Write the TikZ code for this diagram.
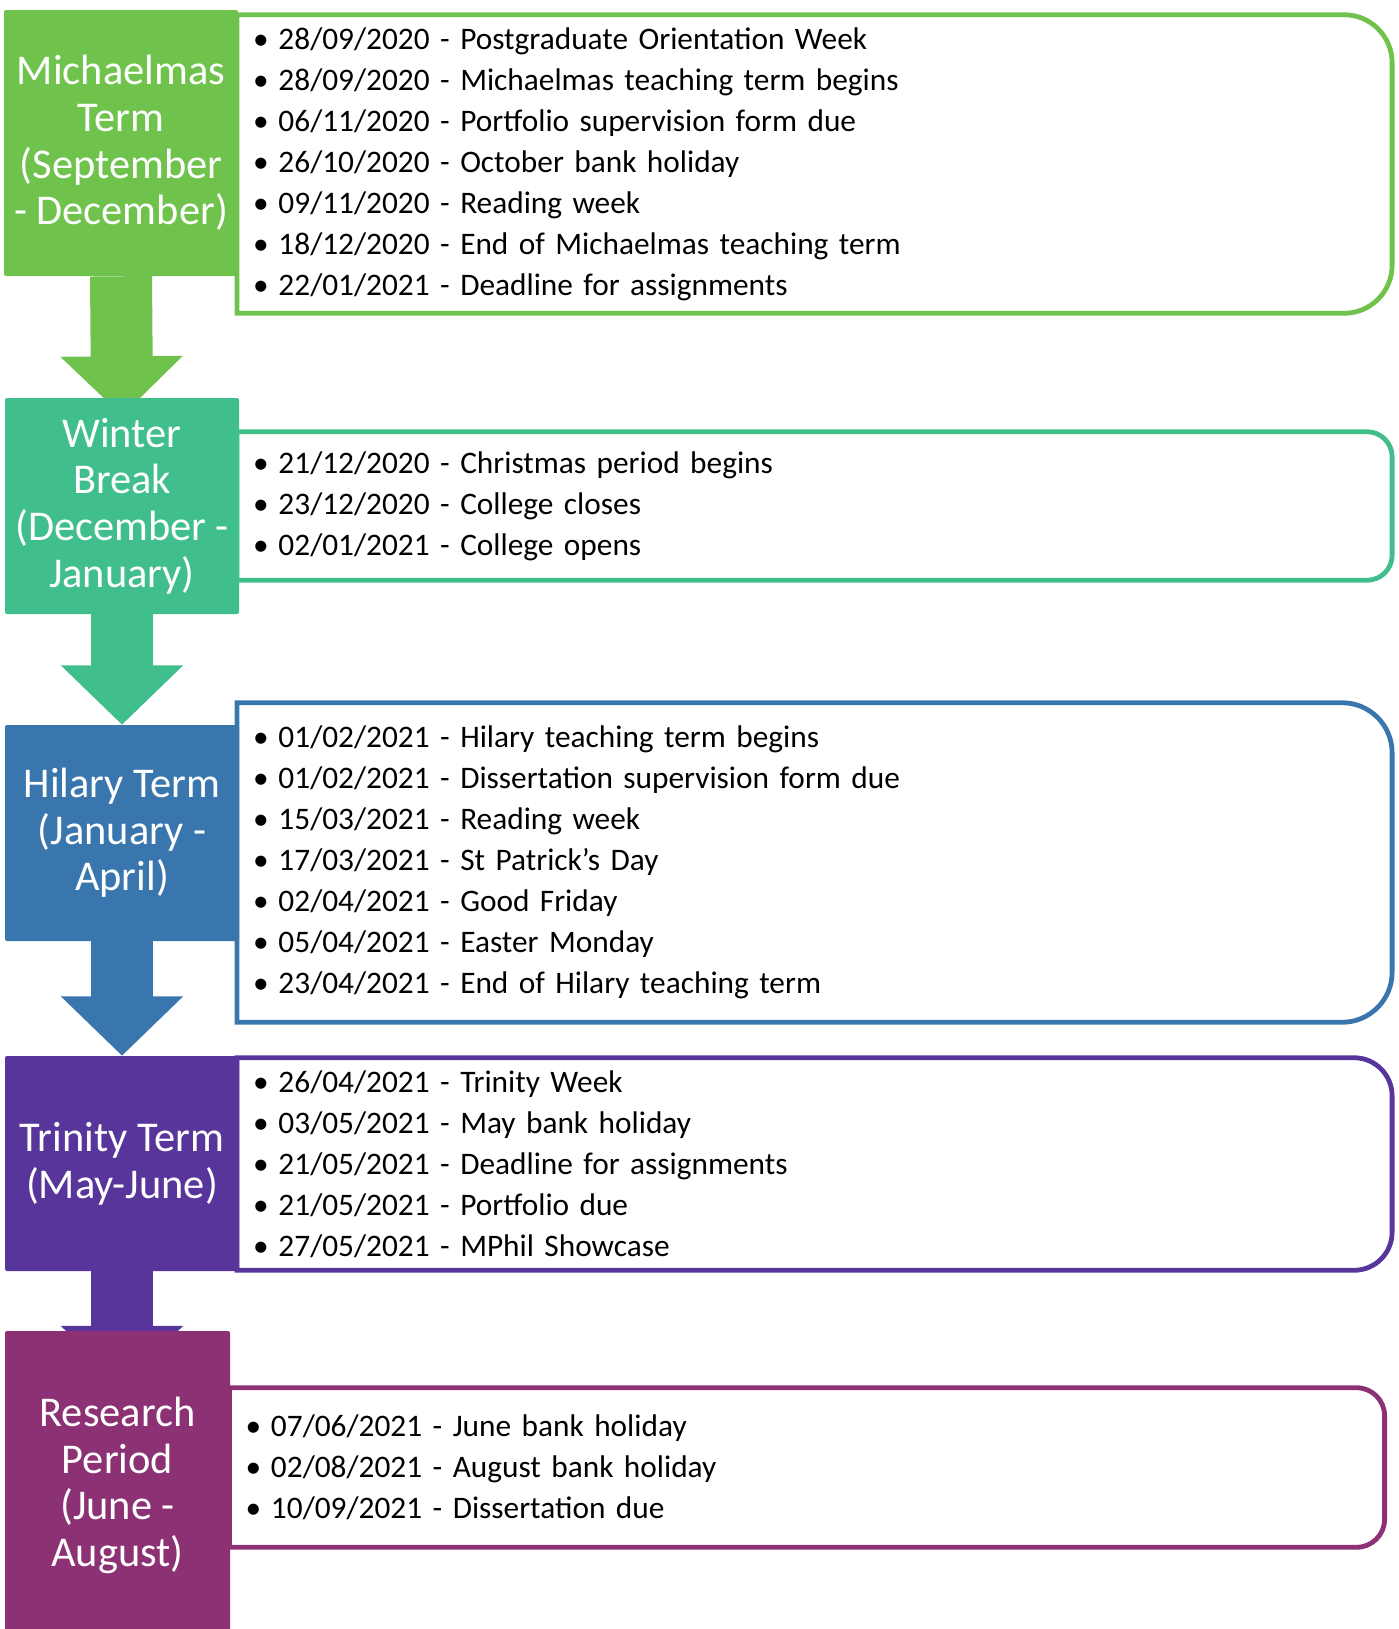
\documentclass[tikz,border=0pt]{standalone}
\usepackage{fontspec}
\setmainfont{Carlito}
\usetikzlibrary{arrows.meta,backgrounds}

\definecolor{michgreen}{RGB}{111,195,76}
\definecolor{wintergreen}{RGB}{64,190,139}
\definecolor{hilaryblue}{RGB}{58,118,174}
\definecolor{trinitypurple}{RGB}{88,53,154}
\definecolor{researchplum}{RGB}{139,49,116}

\newcommand{\bul}{\makebox[19pt][l]{\textbullet}}

\begin{document}
\begin{tikzpicture}[
    x=0.75pt, y=-0.75pt,
    term/.style={rectangle, rounded corners=1.5pt, minimum width=175.5pt, inner sep=0pt, align=center, text=white, font=\fontsize{31.8}{35}\selectfont},
    dates/.style={rectangle, inner xsep=12pt, inner ysep=0pt, text width=842pt, align=left, font=\fontsize{23.5}{30.75}\selectfont},
    flow/.style={line width=46.5pt, -{Triangle[width=89.25pt, length=44.6pt]}}
]
\useasboundingbox (0,0) rectangle (1399,1629);

% Date lists
\node[dates, minimum height=223.5pt] (dates1) at (814.5,164) {\bul 28/09/2020 - Postgraduate Orientation Week\\
    \bul 28/09/2020 - Michaelmas teaching term begins\\
    \bul 06/11/2020 - Portfolio supervision form due\\
    \bul 26/10/2020 - October bank holiday\\
    \bul 09/11/2020 - Reading week\\
    \bul 18/12/2020 - End of Michaelmas teaching term\\
    \bul 22/01/2021 - Deadline for assignments};
\node[dates, minimum height=111pt] (dates2) at (814.5,506) {\bul 21/12/2020 - Christmas period begins\\
    \bul 23/12/2020 - College closes\\
    \bul 02/01/2021 - College opens};
\node[dates, minimum height=239.25pt] (dates3) at (814.5,862.5) {\bul 01/02/2021 - Hilary teaching term begins\\
    \bul 01/02/2021 - Dissertation supervision form due\\
    \bul 15/03/2021 - Reading week\\
    \bul 17/03/2021 - St Patrick’s Day\\
    \bul 02/04/2021 - Good Friday\\
    \bul 05/04/2021 - Easter Monday\\
    \bul 23/04/2021 - End of Hilary teaching term};
\node[dates, minimum height=159pt] (dates4) at (814.5,1164) {\bul 26/04/2021 - Trinity Week\\
    \bul 03/05/2021 - May bank holiday\\
    \bul 21/05/2021 - Deadline for assignments\\
    \bul 21/05/2021 - Portfolio due\\
    \bul 27/05/2021 - MPhil Showcase};
\node[dates, minimum height=119.25pt] (dates5) at (807,1467.5) {\bul 07/06/2021 - June bank holiday\\
    \bul 02/08/2021 - August bank holiday\\
    \bul 10/09/2021 - Dissertation due};

% Outlines, rounded on the right only
\foreach \d/\r/\c in {dates1/36pt/michgreen, dates2/18.75pt/wintergreen, dates3/37.5pt/hilaryblue, dates4/28.5pt/trinitypurple, dates5/21pt/researchplum}
    \draw[\c, line width=3.6pt] (\d.south west) -- (\d.north west) -- ([xshift=-\r]\d.north east) arc[start angle=90, end angle=0, radius=\r] -- ([yshift=\r]\d.south east) arc[start angle=0, end angle=-90, radius=\r] -- cycle;

% Terms
\node[term, fill=michgreen, minimum height=199.5pt] (michaelmas) at (121,143) {Michaelmas\\Term\\(September\\- December)};
\node[term, fill=wintergreen, minimum height=162pt] (winter) at (122,506) {Winter\\Break\\(December -\\January)};
\node[term, fill=hilaryblue, minimum height=162pt] (hilary) at (122,833) {Hilary Term\\(January -\\April)};
\node[term, fill=trinitypurple, minimum height=161.25pt] (trinity) at (122,1163.5) {Trinity Term\\(May-June)};
\node[term, fill=researchplum, minimum width=168.75pt, minimum height=231.75pt] (research) at (117.5,1485.5) {Research\\Period\\(June -\\August)};

% Flow arrows
\begin{scope}[on background layer]
\draw[flow, michgreen, shorten >=-13.5pt] (michaelmas.south) -- (winter.north);
\draw[flow, wintergreen] (winter.south) -- (hilary.north);
\draw[flow, hilaryblue] (hilary.south) -- (trinity.north);
\draw[flow, trinitypurple, shorten >=-40.9pt] (trinity.south) -- (trinity.south |- research.north);
\end{scope}

\end{tikzpicture}
\end{document}
